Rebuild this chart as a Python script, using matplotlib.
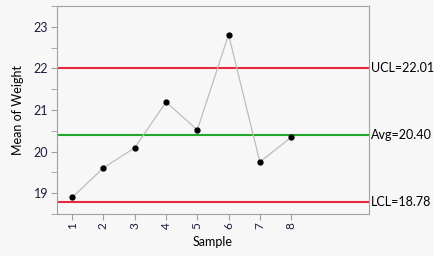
import matplotlib
matplotlib.use("Agg")
import matplotlib.pyplot as plt
from matplotlib.ticker import MultipleLocator

# sample means
samples = [1, 2, 3, 4, 5, 6, 7, 8]
means = [18.90, 19.61, 20.09, 21.19, 20.52, 22.81, 19.75, 20.34]

ucl = 22.01
avg = 20.40
lcl = 18.78

bg_color = '#f7f7f7'
text_color = '#1c1c3c'
spine_color = '#a0a0a0'

plt.rcParams['font.family'] = ['Lato', 'DejaVu Sans']

fig = plt.figure(figsize=(4.35, 2.56), dpi=100, facecolor=bg_color)
ax = fig.add_axes([0.130, 0.164, 0.719, 0.813])
ax.set_facecolor(bg_color)

ax.axhline(ucl, color='#e8283c', linewidth=1.5, zorder=1)
ax.axhline(lcl, color='#e8283c', linewidth=1.5, zorder=1)
ax.axhline(avg, color='#22a82a', linewidth=1.5, zorder=1)

ax.plot(samples, means, color='#bdbdbd', linewidth=0.9, zorder=2)
ax.plot(samples, means, 'o', color='black', markersize=3.5, zorder=3)

ax.set_xlim(0.5, 10.5)
ax.set_ylim(18.5, 23.5)

ax.set_xticks(samples)
ax.set_xticklabels([str(s) for s in samples], rotation=90)
ax.yaxis.set_major_locator(MultipleLocator(1))
ax.yaxis.set_minor_locator(MultipleLocator(0.5))

for side in ['top', 'bottom', 'left', 'right']:
    ax.spines[side].set_color(spine_color)
ax.tick_params(axis='y', colors=spine_color, labelcolor=text_color, labelsize=9, length=4, pad=2)
ax.tick_params(axis='x', colors=spine_color, labelcolor=text_color, labelsize=8.5, length=4, pad=2)
ax.tick_params(axis='y', which='minor', colors=spine_color, length=4)

ax.set_ylabel('Mean of Weight', fontsize=9, color='black', labelpad=7)
ax.set_xlabel('Sample', fontsize=9, color='black', labelpad=5)

# limit labels on the right side
for value, label in [(ucl, 'UCL=22.01'), (avg, 'Avg=20.40'), (lcl, 'LCL=18.78')]:
    ax.text(1.006, value, label, transform=ax.get_yaxis_transform(),
            va='center', ha='left', fontsize=9, color='black')

fig.savefig('out.png', dpi=100, facecolor=bg_color)
